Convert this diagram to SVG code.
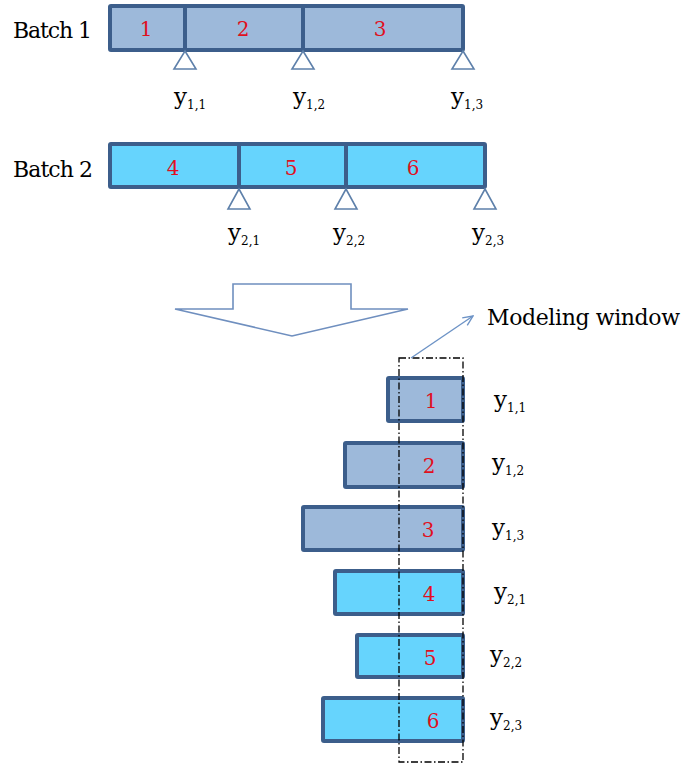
<svg xmlns="http://www.w3.org/2000/svg" width="699" height="766" viewBox="0 0 699 766">
<defs>
<style>
.b1{fill:#9DB9DA;stroke:#3C5E8B;stroke-width:4;stroke-linejoin:round}
.b2{fill:#66D4FD;stroke:#3C5E8B;stroke-width:4;stroke-linejoin:round}
.div{stroke:#3C5E8B;stroke-width:4}
.tri{fill:#fff;stroke:#5E80AA;stroke-width:1.6;stroke-linejoin:miter}
.t{font-family:'DejaVu Serif',serif;fill:#000}
.lbl{font-family:'DejaVu Serif',serif;font-size:22px;fill:#000}
.num{font-family:'DejaVu Serif',serif;font-size:20px;fill:#E0101E;text-anchor:middle}
.y{font-family:'DejaVu Serif',serif;font-size:23px;fill:#000}
.sub{font-size:12px}
.win{fill:none;stroke:#000;stroke-width:1.3;stroke-dasharray:7 2.5 1.5 2.5}
</style>
<marker id="open" viewBox="0 0 12 12" refX="11" refY="6" markerWidth="12" markerHeight="12" markerUnits="userSpaceOnUse" orient="auto">
<path d="M1,1.5 L11,6 L1,10.5" fill="none" stroke="#6D93C6" stroke-width="1.4"/>
</marker>
</defs>

<g id="batch1">
<text class="lbl" x="13" y="38" textLength="79">Batch 1</text>
<rect class="b1" x="110" y="6" width="353" height="44" rx="1"/>
<line class="div" x1="185" y1="6" x2="185" y2="50"/>
<line class="div" x1="303" y1="6" x2="303" y2="50"/>
<text class="num" x="146" y="36">1</text>
<text class="num" x="243" y="36">2</text>
<text class="num" x="380" y="36">3</text>
<polygon class="tri" points="185,51 196,69 174,69"/>
<polygon class="tri" points="303,51 314,69 292,69"/>
<polygon class="tri" points="463,51 474,69 452,69"/>
<text class="y" x="174" y="104">y<tspan class="sub" dy="5">1,1</tspan></text>
<text class="y" x="293" y="104">y<tspan class="sub" dy="5">1,2</tspan></text>
<text class="y" x="451" y="104">y<tspan class="sub" dy="5">1,3</tspan></text>
</g>

<g id="batch2">
<text class="lbl" x="13" y="177" textLength="80">Batch 2</text>
<rect class="b2" x="110" y="144" width="375" height="43" rx="1"/>
<line class="div" x1="239" y1="144" x2="239" y2="187"/>
<line class="div" x1="346" y1="144" x2="346" y2="187"/>
<text class="num" x="173" y="175">4</text>
<text class="num" x="291" y="175">5</text>
<text class="num" x="413" y="175">6</text>
<polygon class="tri" points="239,189 250,209 228,209"/>
<polygon class="tri" points="346,189 357,209 335,209"/>
<polygon class="tri" points="485,189 496,209 474,209"/>
<text class="y" x="228" y="240">y<tspan class="sub" dy="5">2,1</tspan></text>
<text class="y" x="333" y="240">y<tspan class="sub" dy="5">2,2</tspan></text>
<text class="y" x="472" y="240">y<tspan class="sub" dy="5">2,3</tspan></text>
</g>

<g id="bigArrow">
<polygon points="233,284 351,284 351,309 408,309 292,336 175,309 233,309" fill="#fff" stroke="#6F8FBF" stroke-width="1.6" stroke-linejoin="miter"/>
</g>

<g id="windowBars">
<g id="w1"><rect class="b1" x="388" y="378" width="75" height="43" rx="1"/><text class="num" x="431" y="408">1</text><text class="y" x="494" y="407">y<tspan class="sub" dy="5">1,1</tspan></text></g>
<g id="w2"><rect class="b1" x="345" y="443" width="118" height="44" rx="1"/><text class="num" x="429" y="473">2</text><text class="y" x="492" y="470">y<tspan class="sub" dy="5">1,2</tspan></text></g>
<g id="w3"><rect class="b1" x="303" y="507" width="160" height="43" rx="1"/><text class="num" x="428" y="537">3</text><text class="y" x="492" y="535">y<tspan class="sub" dy="5">1,3</tspan></text></g>
<g id="w4"><rect class="b2" x="335" y="571" width="128" height="43" rx="1"/><text class="num" x="429" y="601">4</text><text class="y" x="494" y="599">y<tspan class="sub" dy="5">2,1</tspan></text></g>
<g id="w5"><rect class="b2" x="357" y="635" width="106" height="42" rx="1"/><text class="num" x="430" y="665">5</text><text class="y" x="490" y="662">y<tspan class="sub" dy="5">2,2</tspan></text></g>
<g id="w6"><rect class="b2" x="323" y="698" width="140" height="43" rx="1"/><text class="num" x="433" y="728">6</text><text class="y" x="490" y="725">y<tspan class="sub" dy="5">2,3</tspan></text></g>
</g>

<g id="modelingWindow">
<rect class="win" x="399" y="358" width="64" height="404"/>
<text class="t" x="487" y="325" font-size="22" textLength="193">Modeling window</text>
</g>

<g id="connectors">
<line x1="411" y1="358" x2="473" y2="316" stroke="#6D93C6" stroke-width="1.4" marker-end="url(#open)"/>
</g>
</svg>
